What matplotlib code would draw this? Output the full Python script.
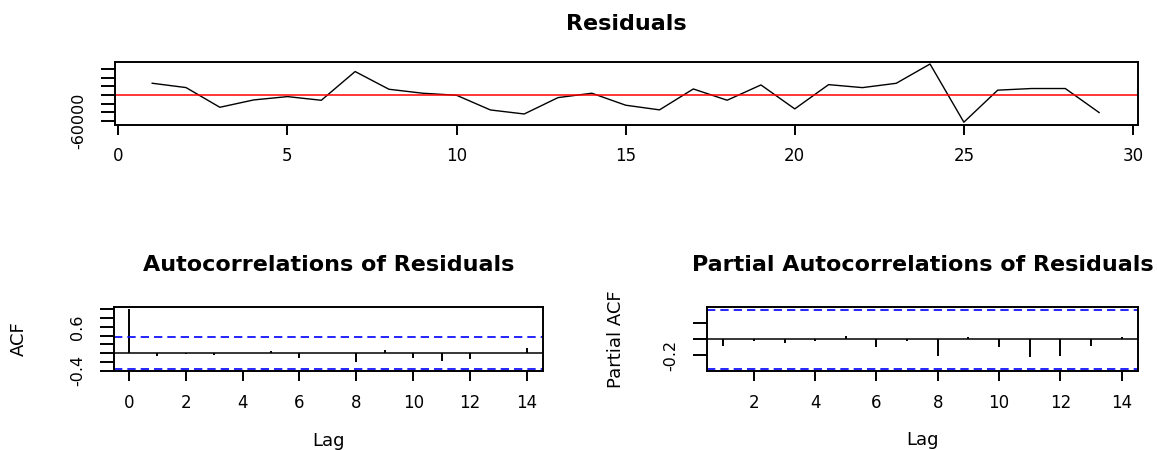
import matplotlib.pyplot as plt
import numpy as np

# residual series
t = list(range(1, 30))
resid = [27000, 17000, -28600, -11600, -3900, -12400, 54100, 13100, 3900, -800,
         -34800, -44100, -6200, 3900, -23800, -34600, 13800, -12300, 23100, -32300,
         23800, 16900, 26900, 71500, -63100, 11000, 14800, 14800, -40800]

# autocorrelations, lag 0..14
acf_lag = list(range(0, 15))
acf = [1.0, -0.06, -0.01, -0.04, 0.005, 0.04, -0.10, -0.005, -0.21, 0.07,
       -0.11, -0.18, -0.14, 0.005, 0.11]

# partial autocorrelations, lag 1..14
pacf_lag = list(range(1, 15))
pacf = [-0.08, -0.02, -0.053, -0.02, 0.04, -0.095, -0.02, -0.205, 0.025, -0.10,
        -0.226, -0.205, -0.082, 0.025]

clim = 0.364  # 1.96 / sqrt(29)

fig = plt.figure(figsize=(11.57, 4.5), dpi=100)


def style(ax, ylen=10, xlen=7.5):
    for s in ax.spines.values():
        s.set_linewidth(1.4)
    ax.tick_params(axis='x', length=xlen, width=1.4, labelsize=12, pad=9)
    ax.tick_params(axis='y', length=ylen, width=1.4, labelsize=11.5, pad=11,
                   labelrotation=90)
    for lab in ax.get_yticklabels():
        lab.set_verticalalignment('center')


# --- residuals
ax1 = fig.add_axes([0.0994, 0.7233, 0.8842, 0.1396])
ax1.plot(t, resid, color='black', lw=1.0)
ax1.axhline(0, color='red', lw=1.1)
ax1.set_xlim(-0.1, 30.15)
lo, hi = min(resid), max(resid)
ax1.set_ylim(lo - 0.04 * (hi - lo), hi + 0.04 * (hi - lo))
ax1.set_xticks([0, 5, 10, 15, 20, 25, 30])
yt = [-60000, -40000, -20000, 0, 20000, 40000, 60000]
ax1.set_yticks(yt)
ax1.set_yticklabels(['-60000', '', '', '', '', '', ''])
style(ax1, xlen=7)
ax1.set_title('Residuals', fontsize=16, fontweight='bold', pad=23)

# --- ACF
ax2 = fig.add_axes([0.0985, 0.1762, 0.3708, 0.1422])
ax2.vlines(acf_lag, 0, acf, color='black', lw=1.4)
ax2.axhline(0, color='black', lw=1.1)
for c in (clim, -clim):
    ax2.axhline(c, color='#0000FF', lw=1.2, ls=(0, (5, 3)))
ax2.set_xlim(-0.52, 14.56)
ax2.set_ylim(-0.40, 1.06)
ax2.set_xticks(range(0, 15, 2))
ax2.set_yticks([-0.4, -0.2, 0.0, 0.2, 0.4, 0.6, 0.8, 1.0])
ax2.set_yticklabels(['-0.4', '', '', '', '', '0.6', '', ''])
style(ax2)
ax2.set_title('Autocorrelations of Residuals', fontsize=16, fontweight='bold', pad=26)
ax2.set_ylabel('ACF', fontsize=13)
ax2.yaxis.set_label_coords(-0.20, 0.5)
ax2.set_xlabel('Lag', fontsize=13)
ax2.xaxis.set_label_coords(0.5, -0.95)

# --- PACF
ax3 = fig.add_axes([0.6113, 0.1756, 0.372, 0.1415])
ax3.vlines(pacf_lag, 0, pacf, color='black', lw=1.4)
ax3.axhline(0, color='black', lw=1.1)
for c in (clim, -clim):
    ax3.axhline(c, color='#0000FF', lw=1.2, ls=(0, (5, 3)))
ax3.set_xlim(0.48, 14.52)
ax3.set_ylim(-0.393, 0.393)
ax3.set_xticks(range(2, 15, 2))
ax3.set_yticks([-0.2, 0.0, 0.2])
ax3.set_yticklabels(['-0.2', '', ''])
style(ax3)
ax3.set_title('Partial Autocorrelations of Residuals', fontsize=16,
              fontweight='bold', pad=26)
ax3.set_ylabel('Partial ACF', fontsize=13)
ax3.yaxis.set_label_coords(-0.19, 0.5)
ax3.set_xlabel('Lag', fontsize=13)
ax3.xaxis.set_label_coords(0.5, -0.95)

fig.savefig('out.png', dpi=100)
